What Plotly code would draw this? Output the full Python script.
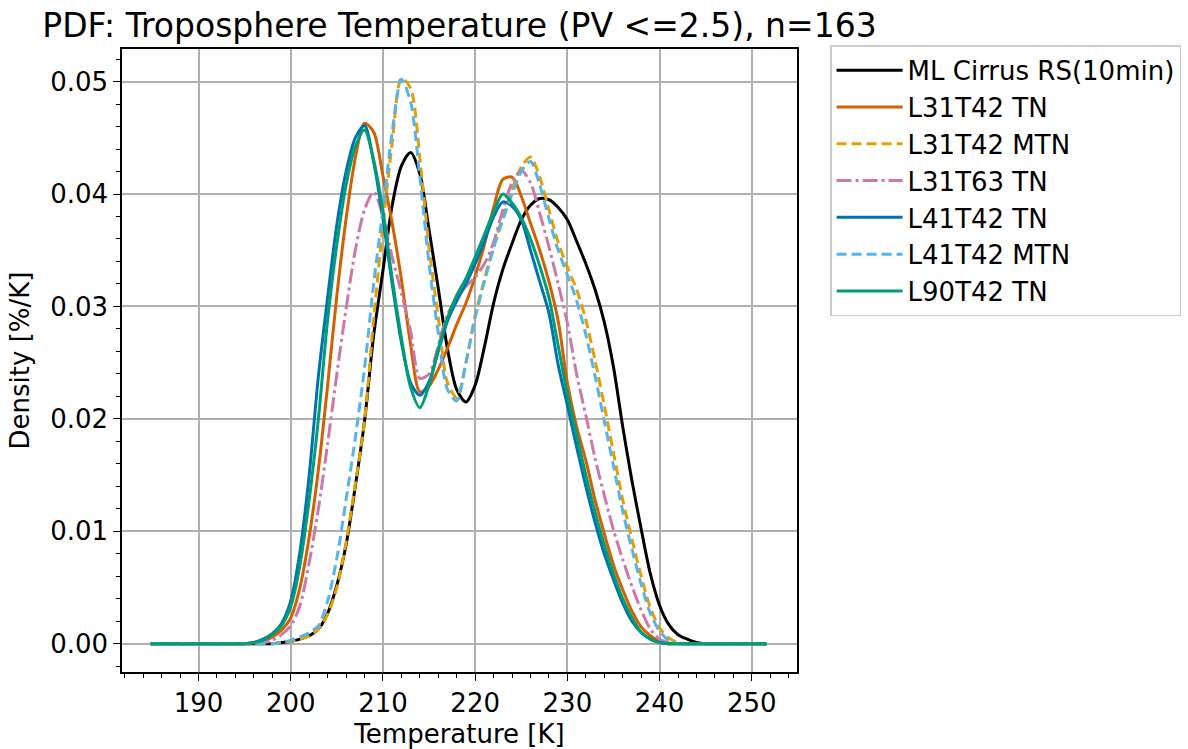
import plotly.graph_objects as go

# Temperature grid [K]
temperature = [184.8, 190, 194] + list(range(195, 247)) + [248, 251.6]

head = [0, 0, 0]
tail = [0, 0]

ml_cirrus = head + [
    0, 0, 0, 0, 0.0001, 0.0002, 0.0004, 0.0007, 0.0013, 0.0027,
    0.0052, 0.0088, 0.0140, 0.0198, 0.0275, 0.0332, 0.0390, 0.0425, 0.0437, 0.0418,
    0.0368, 0.0316, 0.0262, 0.0226, 0.0215, 0.0230, 0.0264, 0.0303, 0.0333, 0.0356,
    0.0377, 0.0390, 0.0396, 0.0395, 0.0388, 0.0377, 0.0358, 0.0338, 0.0315, 0.0286,
    0.0246, 0.0193, 0.0145, 0.0102, 0.0062, 0.0034, 0.0017, 0.0008, 0.0004, 0.0001,
    0, 0] + tail

l31t42_tn = head + [
    0, 0.0001, 0.0002, 0.0006, 0.0012, 0.0023, 0.0050, 0.0095, 0.0155, 0.0230,
    0.0310, 0.0378, 0.0432, 0.0463, 0.0455, 0.0416, 0.0374, 0.0324, 0.0266, 0.0224,
    0.0229, 0.0244, 0.0263, 0.0284, 0.0303, 0.0327, 0.0355, 0.0388, 0.0413, 0.0415,
    0.0398, 0.0374, 0.0350, 0.0322, 0.0287, 0.0232, 0.0193, 0.0163, 0.0128, 0.0098,
    0.0070, 0.0048, 0.0029, 0.0015, 0.0007, 0.0002, 0, 0, 0, 0,
    0, 0] + tail

l31t42_mtn = head + [
    0, 0, 0, 0, 0.0001, 0.0002, 0.0004, 0.0007, 0.0013, 0.0026,
    0.0050, 0.0090, 0.0142, 0.0198, 0.0290, 0.0372, 0.0445, 0.0503, 0.0494, 0.0432,
    0.0352, 0.0290, 0.0232, 0.0219, 0.0250, 0.0292, 0.0324, 0.0354, 0.0380, 0.0404,
    0.0424, 0.0433, 0.0415, 0.0386, 0.0357, 0.0335, 0.0315, 0.0288, 0.0252, 0.0212,
    0.0170, 0.0128, 0.0093, 0.0060, 0.0032, 0.0014, 0.0005, 0.0001, 0, 0,
    0, 0] + tail

l31t63_tn = head + [
    0, 0, 0.0001, 0.0003, 0.0008, 0.0016, 0.0034, 0.0072, 0.0120, 0.0178,
    0.0240, 0.0298, 0.0350, 0.0386, 0.0402, 0.0380, 0.0344, 0.0312, 0.0278, 0.0236,
    0.0240, 0.0265, 0.0293, 0.0307, 0.0318, 0.0326, 0.0338, 0.0357, 0.0386, 0.0410,
    0.0421, 0.0410, 0.0383, 0.0353, 0.0320, 0.0285, 0.0240, 0.0203, 0.0165, 0.0132,
    0.0101, 0.0075, 0.0051, 0.0030, 0.0013, 0.0004, 0.0001, 0, 0, 0,
    0, 0] + tail

l41t42_tn = head + [
    0, 0.0001, 0.0004, 0.0009, 0.0018, 0.0038, 0.0082, 0.0150, 0.0238, 0.0308,
    0.0373, 0.0420, 0.0450, 0.0461, 0.0428, 0.0378, 0.0320, 0.0268, 0.0232, 0.0221,
    0.0233, 0.0260, 0.0287, 0.0305, 0.0320, 0.0338, 0.0358, 0.0380, 0.0393, 0.0389,
    0.0377, 0.0350, 0.0322, 0.0294, 0.0248, 0.0212, 0.0175, 0.0140, 0.0108, 0.0080,
    0.0057, 0.0036, 0.0020, 0.0010, 0.0004, 0.0001, 0, 0, 0, 0,
    0, 0] + tail

l41t42_mtn = head + [
    0, 0, 0, 0, 0.0001, 0.0003, 0.0006, 0.0010, 0.0016, 0.0038,
    0.0076, 0.0128, 0.0183, 0.0245, 0.0321, 0.0386, 0.0455, 0.0502, 0.0482, 0.0415,
    0.0338, 0.0276, 0.0226, 0.0216, 0.0250, 0.0290, 0.0322, 0.0352, 0.0377, 0.0400,
    0.0420, 0.0429, 0.0408, 0.0378, 0.0350, 0.0328, 0.0305, 0.0275, 0.0238, 0.0198,
    0.0158, 0.0118, 0.0084, 0.0053, 0.0027, 0.0011, 0.0003, 0, 0, 0,
    0, 0] + tail

l90t42_tn = head + [
    0, 0.0001, 0.0003, 0.0008, 0.0016, 0.0033, 0.0070, 0.0128, 0.0200, 0.0288,
    0.0355, 0.0408, 0.0442, 0.0457, 0.0430, 0.0385, 0.0325, 0.0272, 0.0228, 0.0210,
    0.0230, 0.0262, 0.0290, 0.0310, 0.0325, 0.0344, 0.0364, 0.0384, 0.0400, 0.0392,
    0.0379, 0.0360, 0.0336, 0.0308, 0.0265, 0.0222, 0.0186, 0.0150, 0.0117, 0.0088,
    0.0062, 0.0040, 0.0023, 0.0010, 0.0004, 0.0001, 0, 0, 0, 0,
    0, 0] + tail

series_names = ["ML Cirrus RS(10min)", "L31T42 TN", "L31T42 MTN", "L31T63 TN",
                "L41T42 TN", "L41T42 MTN", "L90T42 TN"]
series_values = [ml_cirrus, l31t42_tn, l31t42_mtn, l31t63_tn,
                 l41t42_tn, l41t42_mtn, l90t42_tn]
colors = ["#000000", "#D55E00", "#E69F00", "#CC79A7", "#0072B2", "#56B4E9", "#009E73"]
dashes = ["solid", "solid", "10px,5px", "15px,4px,3px,4px", "solid", "10px,5px", "solid"]

x_ticks = [190, 200, 210, 220, 230, 240, 250]
y_ticks = [0.00, 0.01, 0.02, 0.03, 0.04, 0.05]

FONT = "DejaVu Sans"
FS = 26

fig = go.Figure()
for i, (name, vals, col, dash) in enumerate(zip(series_names, series_values, colors, dashes)):
    fig.add_trace(go.Scatter(
        x=temperature, y=vals, mode="lines", name=name,
        line=dict(color=col, width=3, dash=dash, shape="spline", smoothing=0.8),
        legendgroup=str(i),
    ))

axis_common = dict(
    showline=True, linecolor="black", linewidth=1.5, mirror=True,
    ticks="outside", ticklen=7, tickwidth=1.3, tickcolor="black",
    showgrid=True, gridcolor="#b0b0b0", gridwidth=1.5,
    zeroline=False, automargin=False,
    tickfont=dict(family=FONT, size=FS, color="black"),
)

fig.update_layout(
    width=1188, height=749,
    margin=dict(l=122, r=391, t=49, b=77, autoexpand=False),
    paper_bgcolor="white", plot_bgcolor="white",
    font=dict(family=FONT, size=FS, color="black"),
    title=dict(text="PDF: Troposphere Temperature (PV <=2.5), n=163",
               font=dict(family=FONT, size=33, color="black"),
               x=0.5, xref="paper", xanchor="center",
               y=1 - 25 / 749, yref="container", yanchor="middle"),
    xaxis=dict(range=[181.7, 254.9], tickvals=x_ticks,
               title=dict(text="Temperature [K]", font=dict(family=FONT, size=FS), standoff=12),
               minor=dict(ticks="outside", ticklen=4, tickwidth=1, tickcolor="black",
                          dtick=2, tick0=0, showgrid=False),
               **axis_common),
    yaxis=dict(range=[-0.00252, 0.0529], tickvals=y_ticks, tickformat=".2f",
               title=dict(text="Density [%/K]", font=dict(family=FONT, size=FS), standoff=13),
               minor=dict(ticks="outside", ticklen=4, tickwidth=1, tickcolor="black",
                          dtick=0.002, tick0=0, showgrid=False),
               **axis_common),
    legend=dict(x=1.049, y=1.006, xanchor="left", yanchor="top",
                bgcolor="white", bordercolor="#cccccc", borderwidth=1.5,
                font=dict(family=FONT, size=FS, color="black"),
                itemwidth=66,
                tracegroupgap=5, traceorder="normal"),
    showlegend=True,
)

fig.write_html("out.html")
